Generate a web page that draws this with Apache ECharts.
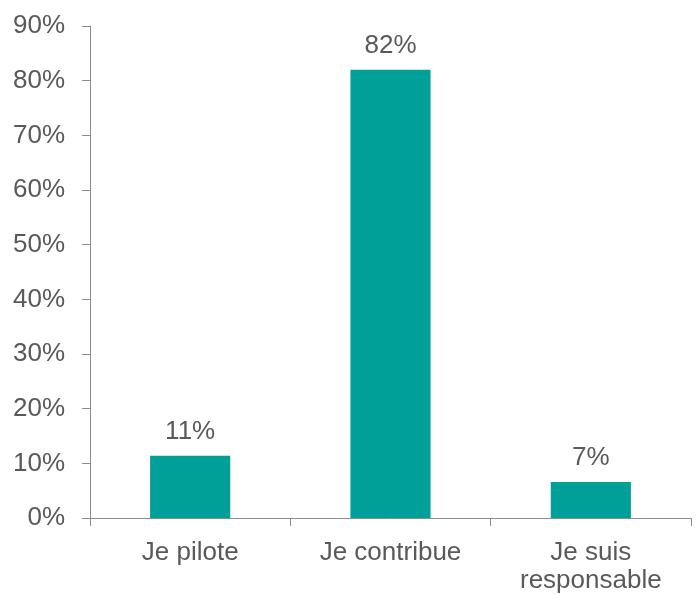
<!DOCTYPE html>
<html>
<head>
<meta charset="utf-8">
<script src="https://cdn.jsdelivr.net/npm/echarts@6/dist/echarts.min.js"></script>
<style>html,body{margin:0;padding:0;background:#fff}#c{width:698px;height:595px}</style>
</head>
<body>
<div id="c"></div>
<script>
const categories = ['Je pilote', 'Je contribue', 'Je suis\nresponsable'];
const values = [11.4, 82.0, 6.6];
const yTicks = [0, 10, 20, 30, 40, 50, 60, 70, 80, 90];

const chart = echarts.init(document.getElementById('c'));
const textColor = '#595959';
const font = 'Liberation Sans, Arial, sans-serif';
chart.setOption({
  animation: false,
  grid: { left: 90, right: 7, top: 26, bottom: 74 },
  xAxis: {
    type: 'category',
    data: categories,
    axisLine: { lineStyle: { color: '#8c8c8c', width: 1 } },
    axisTick: { show: true, length: 8, alignWithLabel: false, lineStyle: { color: '#8c8c8c' } },
    axisLabel: { color: textColor, fontSize: 26, fontFamily: font, margin: 21, lineHeight: 28, interval: 0 }
  },
  yAxis: {
    type: 'value',
    min: yTicks[0],
    max: yTicks[yTicks.length - 1],
    interval: 10,
    splitLine: { show: false },
    axisLine: { show: true, lineStyle: { color: '#8c8c8c', width: 1 } },
    axisTick: { show: true, length: 8, lineStyle: { color: '#8c8c8c' } },
    axisLabel: { color: textColor, fontSize: 26, fontFamily: font, margin: 25, formatter: v => v + '%' }
  },
  series: [{
    type: 'bar',
    data: values,
    barWidth: '40%',
    itemStyle: { color: '#009F97' },
    label: {
      show: true, position: 'top', distance: 11,
      color: textColor, fontSize: 26, fontFamily: font,
      formatter: p => Math.round(p.value) + '%'
    }
  }]
});
</script>
</body>
</html>
